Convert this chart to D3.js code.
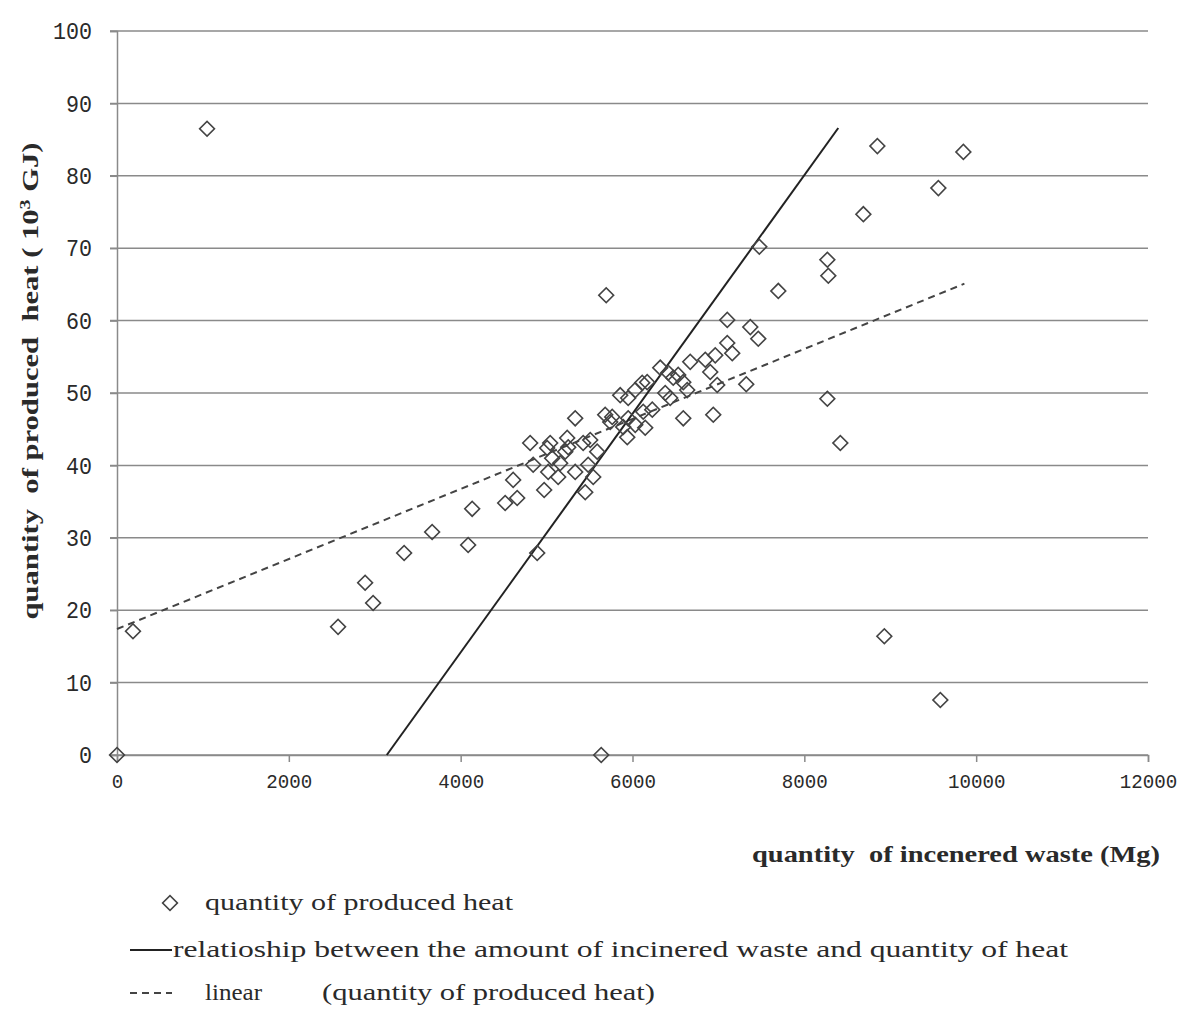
<!DOCTYPE html>
<html>
<head>
<meta charset="utf-8">
<script src="https://cdn.jsdelivr.net/npm/d3@7"></script>
<style>
  body { margin: 0; background: #fff; }
  svg { display: block; }
</style>
</head>
<body>
<svg></svg>
<script>
// quantity of incenered waste (Mg)
const wasteMg = [
  0, 1048, 186, 2573, 2888, 2981, 3342, 3668, 4087, 4134,
  4518, 4658, 4611, 4809, 4844, 4891, 4972, 5007, 5019, 5065,
  5042, 5135, 5158, 5217, 5240, 5252, 5333, 5333, 5426, 5450,
  5484, 5543, 5589, 5508, 5636, 5694, 5682, 5741, 5764, 5857,
  5950, 6032, 6113, 6171, 5892, 5939, 5950, 6032, 6148, 6125,
  6230, 6323, 6381, 6416, 6439, 6474, 6532, 6591, 6637, 6591,
  6672, 6847, 6905, 6963, 6986, 6940, 7103, 7103, 7161, 7324,
  7371, 7464, 7476, 7697, 8268, 8279, 8268, 8419, 8687, 8850,
  8931, 9560, 9851, 9583
];
// quantity of produced heat (10^3 GJ)
const heatGJ = [
  0, 86.5, 17.1, 17.7, 23.8, 21.0, 27.9, 30.8, 29.0, 34.0,
  34.8, 35.5, 38.0, 43.1, 40.1, 27.9, 36.6, 42.4, 39.1, 41.0,
  43.1, 38.4, 40.3, 41.9, 43.8, 42.5, 46.5, 39.1, 43.1, 36.3,
  40.1, 38.4, 41.9, 43.5, 0, 63.5, 47.0, 46.0, 46.7, 49.7,
  49.3, 50.4, 51.4, 51.5, 45.3, 43.9, 46.5, 45.6, 45.2, 47.4,
  47.7, 53.5, 50.0, 52.8, 49.3, 52.1, 52.5, 51.5, 50.4, 46.5,
  54.3, 54.6, 52.9, 55.2, 51.1, 47.0, 60.1, 56.9, 55.5, 51.2,
  59.1, 57.5, 70.2, 64.1, 68.4, 66.2, 49.2, 43.1, 74.7, 84.1,
  16.4, 78.3, 83.3, 7.6
];
const relationLine = [[3140, 0], [8395, 86.6]];
const linearTrend = [[0, 17.4], [9863, 65.1]];

const xTicks = [0, 2000, 4000, 6000, 8000, 10000, 12000];
const yTicks = [0, 10, 20, 30, 40, 50, 60, 70, 80, 90, 100];

const W = 1184, H = 1014;
const M = {left: 117, top: 31, right: 36, bottom: 259};
const PW = W - M.left - M.right;
const PH = H - M.top - M.bottom;

const svg = d3.select('svg').attr('width', W).attr('height', H);
svg.append('rect').attr('width', W).attr('height', H).attr('fill', '#fff');

const chart = svg.append('g').attr('transform', `translate(${M.left},${M.top})`);

const x = d3.scaleLinear().domain([0, 12000]).range([0, PW]);
const y = d3.scaleLinear().domain([0, 100]).range([PH, 0]);

const TXT = '#2a2a2a';
const GRID = '#8a8a8a';

// grid lines
chart.append('g')
  .selectAll('line')
  .data(yTicks)
  .enter()
  .append('line')
  .attr('x1', -7).attr('x2', PW)
  .attr('y1', d => y(d)).attr('y2', d => y(d))
  .attr('stroke', GRID).attr('stroke-width', 1.5);

// y axis
const yAxis = chart.append('g')
  .call(d3.axisLeft(y).tickValues(yTicks).tickSize(7).tickPadding(18).tickFormat(d3.format('d')));
yAxis.select('.domain').attr('stroke', GRID).attr('stroke-width', 1.5);
yAxis.selectAll('.tick line').attr('stroke', GRID).attr('stroke-width', 1.5);
yAxis.selectAll('.tick text')
  .attr('font-family', 'Liberation Mono, DejaVu Sans Mono, monospace')
  .attr('font-size', 24)
  .attr('fill', TXT)
  .attr('textLength', d => String(d).length * 13)
  .attr('lengthAdjust', 'spacingAndGlyphs');

// x axis
const xAxis = chart.append('g')
  .attr('transform', `translate(0,${PH})`)
  .call(d3.axisBottom(x).tickValues(xTicks).tickSize(7).tickPadding(11).tickFormat(d3.format('d')));
xAxis.select('.domain').attr('stroke', GRID).attr('stroke-width', 1.5);
xAxis.selectAll('.tick line').attr('stroke', GRID).attr('stroke-width', 1.5);
xAxis.selectAll('.tick text')
  .attr('font-family', 'Liberation Mono, DejaVu Sans Mono, monospace')
  .attr('font-size', 21)
  .attr('fill', TXT)
  .attr('textLength', d => String(d).length * 11.5)
  .attr('lengthAdjust', 'spacingAndGlyphs');

// trend lines
const line = d3.line().x(d => x(d[0])).y(d => y(d[1]));
chart.append('path')
  .datum(linearTrend)
  .attr('d', line)
  .attr('fill', 'none')
  .attr('stroke', '#444')
  .attr('stroke-width', 2)
  .attr('stroke-dasharray', '7,5');
chart.append('path')
  .datum(relationLine)
  .attr('d', line)
  .attr('fill', 'none')
  .attr('stroke', '#222')
  .attr('stroke-width', 2);

// points
const diamond = d3.symbol().type(d3.symbolSquare).size(110);
chart.selectAll('.pt')
  .data(wasteMg.map((v, i) => [v, heatGJ[i]]))
  .enter()
  .append('path')
  .attr('class', 'pt')
  .attr('d', diamond)
  .attr('transform', d => `translate(${x(d[0])},${y(d[1])}) rotate(45)`)
  .attr('fill', 'none')
  .attr('stroke', '#444')
  .attr('stroke-width', 1.6);

// axis titles
svg.append('text')
  .attr('transform', 'translate(38,381) rotate(-90)')
  .attr('text-anchor', 'middle')
  .attr('font-family', 'Liberation Serif, Times New Roman, serif')
  .attr('font-weight', 'bold')
  .attr('font-size', 23)
  .attr('fill', TXT)
  .attr('textLength', 477)
  .attr('lengthAdjust', 'spacingAndGlyphs')
  .call(t => {
    t.append('tspan').text('quantity\u00a0 of produced\u00a0 heat ( 10');
    t.append('tspan').attr('baseline-shift', 'super').attr('font-size', 15).text('3');
    t.append('tspan').text(' GJ)');
  });

svg.append('text')
  .attr('x', 752).attr('y', 862)
  .attr('font-family', 'Liberation Serif, Times New Roman, serif')
  .attr('font-weight', 'bold')
  .attr('font-size', 23)
  .attr('fill', TXT)
  .attr('textLength', 408)
  .attr('lengthAdjust', 'spacingAndGlyphs')
  .text('quantity\u00a0 of incenered waste (Mg)');

// legend
const legend = svg.append('g')
  .attr('font-family', 'Liberation Serif, Times New Roman, serif')
  .attr('font-size', 23)
  .attr('fill', TXT);

legend.append('path')
  .attr('d', diamond)
  .attr('transform', 'translate(170,903) rotate(45)')
  .attr('fill', 'none').attr('stroke', '#444').attr('stroke-width', 1.6);
legend.append('text').attr('x', 205).attr('y', 910)
  .attr('textLength', 308).attr('lengthAdjust', 'spacingAndGlyphs')
  .text('quantity of produced heat');

legend.append('line')
  .attr('x1', 130).attr('x2', 172).attr('y1', 950).attr('y2', 950)
  .attr('stroke', '#222').attr('stroke-width', 2);
legend.append('text').attr('x', 173).attr('y', 957)
  .attr('textLength', 895).attr('lengthAdjust', 'spacingAndGlyphs')
  .text('relatioship between the amount of incinered waste and quantity of heat');

legend.append('line')
  .attr('x1', 130).attr('x2', 172).attr('y1', 993).attr('y2', 993)
  .attr('stroke', '#444').attr('stroke-width', 2)
  .attr('stroke-dasharray', '7,5');
legend.append('text').attr('x', 205).attr('y', 1000)
  .attr('textLength', 57).attr('lengthAdjust', 'spacingAndGlyphs')
  .text('linear');
legend.append('text').attr('x', 322).attr('y', 1000)
  .attr('textLength', 333).attr('lengthAdjust', 'spacingAndGlyphs')
  .text('(quantity of produced heat)');
</script>
</body>
</html>
